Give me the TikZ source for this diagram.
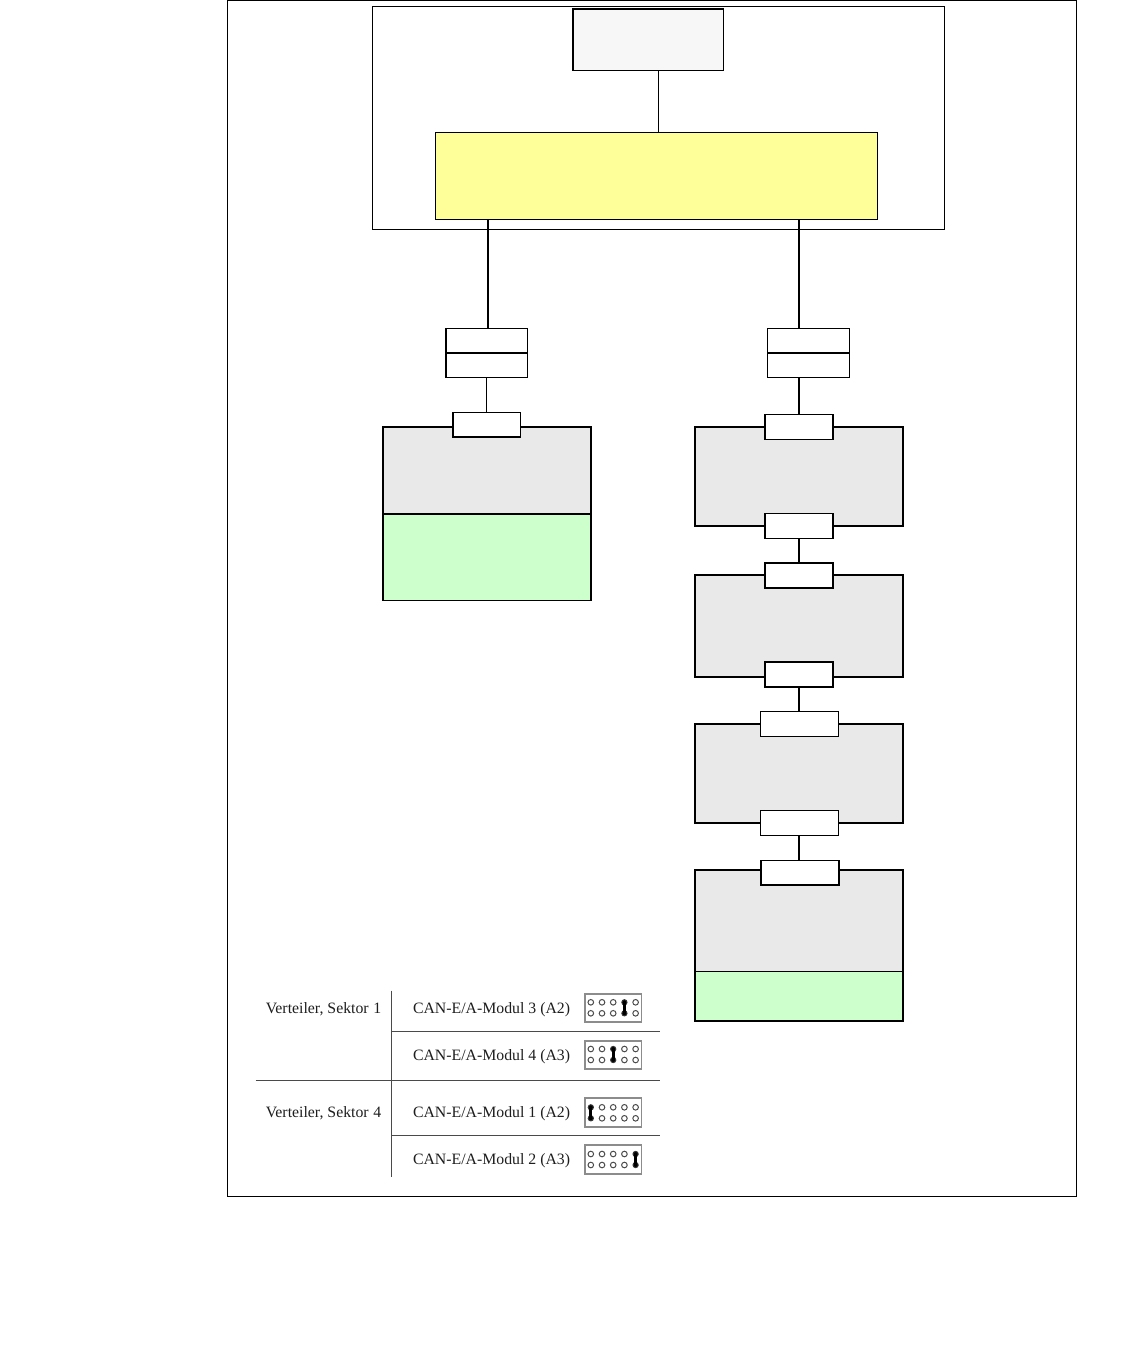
\documentclass[tikz,border=0pt]{standalone}
\usepackage{fontspec}
\setmainfont{Liberation Serif}
\usetikzlibrary{calc}
\definecolor{modgray}{HTML}{E9E9E9}
\definecolor{modgreen}{HTML}{CCFFCC}
\definecolor{modyellow}{HTML}{FFFF99}
\definecolor{topgray}{HTML}{F7F7F7}
\definecolor{rulegray}{HTML}{4A4A4A}
\definecolor{jumpgray}{HTML}{8C8C8C}
\definecolor{inkgray}{HTML}{1E1E1E}
\tikzset{
  x=0.75pt,y=-0.75pt,
  px/.style={line width=#1*0.75pt},
  rect/.style={rectangle,draw=black,inner sep=0pt,outer sep=0pt,px=1.4},
  frame/.style={rect,px=1},
  chip/.style={rect,fill=white,px=1.25},
  module/.style={rect,fill=modgray,px=1.6},
  greenmod/.style={rect,fill=modgreen,px=1.4},
  jumpbox/.style={rect,draw=jumpgray,px=1.7},
  wire/.style={draw=black,px=1},
  wirebold/.style={draw=black,px=2},
  tablerule/.style={draw=rulegray,px=1.3},
  label/.style={inner sep=0pt,outer sep=0pt,text=inkgray,font=\fontsize{11.85}{14}\selectfont},
  pin/.style={draw=black!70,px=1,fill=white},
  jumper/.style={draw=black,line cap=round,px=2.8},
  jpin/.style={draw=black!80,fill=black,px=1}
}
% \pbox[style]{name}{x1}{y1}{x2}{y2}
\newcommand{\pbox}[6][]{%
  \pgfmathsetmacro{\cxx}{(#3+#5)/2}%
  \pgfmathsetmacro{\cyy}{(#4+#6)/2}%
  \pgfmathsetmacro{\www}{(#5-#3)*0.75}%
  \pgfmathsetmacro{\hhh}{(#6-#4)*0.75}%
  \node[#1,minimum width=\www pt,minimum height=\hhh pt] (#2) at (\cxx,\cyy) {};%
}
% \jumperfield{name}{y1}{y2}{rowA}{rowB}{jumper column}
\newcommand{\jumperfield}[6]{%
  \pbox[jumpbox]{#1}{584.8}{#2}{641.5}{#3}%
  \foreach \cc/\xx in {1/590.8,2/602,3/613.2,4/624.4,5/635.6}{%
    \ifnum\cc=#6\relax
      \draw[jpin] (\xx,#4) circle[radius=2.6];
      \draw[jpin] (\xx,#5) circle[radius=2.6];
      \draw[jumper] (\xx,#4) -- (\xx,#5);
    \else
      \draw[pin] (\xx,#4) circle[radius=2.8];
      \draw[pin] (\xx,#5) circle[radius=2.8];
    \fi
  }%
}
\begin{document}
\begin{tikzpicture}
\useasboundingbox (0,0) rectangle (1134,1358);
\fill[white] (0,0) rectangle (1134,1358);
% frames
\pbox[frame]{outer}{227.5}{0.5}{1076.5}{1196.5}
\pbox[frame]{upper}{372.5}{6.5}{944.5}{229.5}
\pbox[rect,fill=topgray]{top}{573}{9}{723.5}{70.5}
\pbox[frame,fill=modyellow]{yellow}{435.5}{132.5}{877.5}{219.5}
% left column
\pbox[rect,fill=white]{ifLa}{446}{328.5}{527.5}{353}
\pbox[rect,fill=white]{ifLb}{446}{353}{527.5}{377.5}
\pbox[module]{modL}{383}{427}{591}{514}
\pbox[greenmod]{greenL}{383}{514}{591}{600.5}
\pbox[chip]{chipL}{453}{412.5}{520.5}{437}
% right column
\pbox[rect,fill=white]{ifRa}{767.5}{328.5}{849.5}{353}
\pbox[rect,fill=white]{ifRb}{767.5}{353}{849.5}{377.5}
\pbox[module]{modA}{695}{427}{903}{526}
\pbox[chip]{chipAt}{765}{414.5}{833}{439.5}
\pbox[chip]{chipAb}{765}{513.5}{833}{538.5}
\pbox[module]{modB}{695}{575}{903}{677}
\pbox[chip]{chipBt}{765}{563}{833}{588}
\pbox[chip]{chipBb}{765}{662}{833}{687}
\pbox[module]{modC}{695}{724}{902.7}{823}
\pbox[chip]{chipCt}{760.5}{711.5}{838.5}{736.5}
\pbox[chip]{chipCb}{760.5}{810.5}{838.5}{835.5}
\pbox[module]{modD}{695}{870}{902.7}{971.5}
\pbox[greenmod]{greenD}{695}{971.5}{903}{1021}
\pbox[chip]{chipDt}{761}{860.5}{839}{885}
% connectors
\draw[wire] (658.5,0 |- top.south) -- (658.5,0 |- yellow.north);
\draw[wirebold] ($(chipL.north |- yellow.south)+(1,0)$) -- ($(chipL.north |- ifLa.north)+(1,0)$);
\draw[wirebold] (chipAt.north |- yellow.south) -- (chipAt.north |- ifRa.north);
\draw[wire] (chipL.north |- ifLb.south) -- (chipL.north);
\draw[wirebold] (chipAt.north |- ifRb.south) -- (chipAt.north);
\draw[wirebold] (chipAb.south) -- (chipBt.north);
\draw[wirebold] (chipBb.south) -- (chipBb.south |- chipCt.north);
\draw[wirebold] (chipBb.south |- chipCb.south) -- (chipBb.south |- chipDt.north);
% table
\coordinate (vtop) at (391.7,990.5);
\coordinate (vbot) at (391.7,1176.5);
\draw[tablerule] (vtop) -- (vbot);
\coordinate (r1a) at (391.7,1031.7); \coordinate (r1b) at (660,1031.7);
\coordinate (r2a) at (255.5,1080.7); \coordinate (r2b) at (660,1080.7);
\coordinate (r3a) at (391.7,1135.7); \coordinate (r3b) at (660,1135.7);
\draw[tablerule] (r1a) -- (r1b);
\draw[tablerule] (r2a) -- (r2b);
\draw[tablerule] (r3a) -- (r3b);
\node[label,anchor=base west] (s1) at (265.8,1013) {Verteiler, Sektor\hspace{0.6pt} 1};
\node[label,anchor=base west] (s4) at (265.8,1117) {Verteiler, Sektor\hspace{0.6pt} 4};
\node[label,anchor=base west] (m3) at (413,1013) {CAN-E/A-Modul 3 (A2)};
\node[label,anchor=base west] (m4) at (413,1060) {CAN-E/A-Modul 4 (A3)};
\node[label,anchor=base west] (m1) at (413,1117) {CAN-E/A-Modul 1 (A2)};
\node[label,anchor=base west] (m2) at (413,1164) {CAN-E/A-Modul 2 (A3)};
\jumperfield{j3}{994}{1022}{1002.3}{1013.3}{4}
\jumperfield{j4}{1041}{1069}{1049}{1060}{3}
\jumperfield{j1}{1098}{1127}{1107.3}{1118.3}{1}
\jumperfield{j2}{1145}{1174}{1154}{1165}{5}
\end{tikzpicture}
\end{document}
